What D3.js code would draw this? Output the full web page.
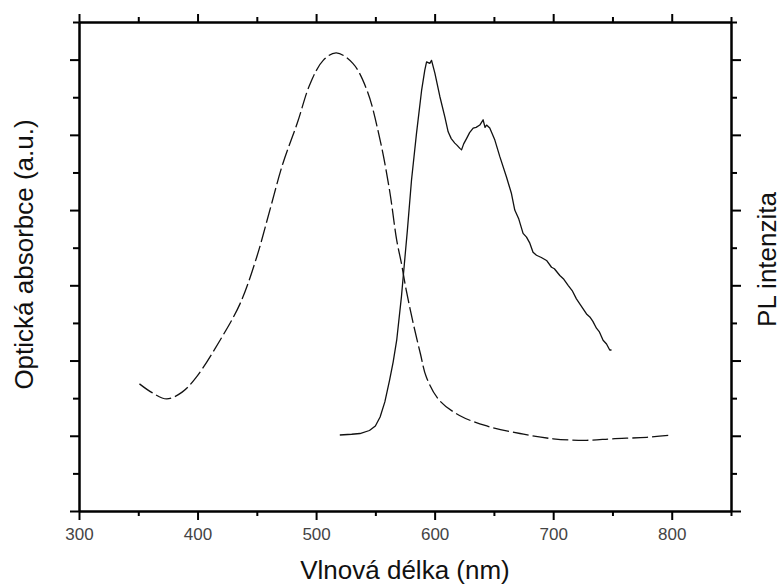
<!DOCTYPE html>
<html>
<head>
<meta charset="utf-8">
<script src="https://cdn.jsdelivr.net/npm/d3@7"></script>
<style>
  body { margin: 0; background: #fff; }
  text { font-family: "Liberation Sans", Arial, sans-serif; }
</style>
</head>
<body>
<svg width="782" height="585"></svg>
<script>
const width = 782;
const height = 585;
const plot_left = 79;
const plot_right = 731;
const plot_top = 22;
const plot_bottom = 511;

// absorption spectrum (dashed)
const abs_wavelength = [351, 362, 374, 387, 399, 419, 436, 450, 461, 472, 484, 495, 506, 517,
  531, 543, 554, 562, 568, 572, 576, 582, 588, 593, 604, 621, 644, 672, 700, 728, 750, 779, 800];
const abs_value = [1.69, 1.57, 1.49, 1.58, 1.78, 2.27, 2.76, 3.38, 4.00, 4.62, 5.15, 5.68, 5.99, 6.09,
  5.95, 5.59, 4.93, 4.26, 3.60, 3.29, 2.94, 2.49, 2.09, 1.78, 1.47, 1.27, 1.13, 1.03, 0.96, 0.94, 0.96, 0.98, 1.01];

// photoluminescence spectrum (solid)
const pl_wavelength = [520, 530, 537, 545, 550, 554, 558, 562, 565, 568, 572, 575, 577, 580.5, 584.7, 589,
  591.7, 593.2, 595.9, 597.4, 600.2, 604.4, 608.6, 611.4, 614, 617, 619, 621.3, 622.7, 624.5, 626.9, 629.5,
  632.5, 635, 638.1, 640.9, 642.5, 643.8, 646.5, 650.8, 655, 660.6, 664.8, 667.6, 671, 674.6, 677.5, 680.3,
  683, 685.9, 690, 694.4, 698.6, 701, 705.6, 709, 712.6, 716, 719.6, 723, 728.1, 730.9, 733.5, 736.5, 739,
  742.1, 745, 747.7, 749.2];
const pl_value = [1.01, 1.02, 1.03, 1.07, 1.13, 1.25, 1.45, 1.74, 1.98, 2.27, 2.85, 3.38, 3.73, 4.40, 5.02, 5.59,
  5.86, 5.97, 5.95, 5.99, 5.82, 5.51, 5.24, 5.04, 4.95, 4.89, 4.86, 4.82, 4.80, 4.88, 4.95, 5.03,
  5.09, 5.10, 5.13, 5.20, 5.10, 5.13, 5.09, 4.93, 4.71, 4.44, 4.22, 4.00, 3.88, 3.69, 3.64, 3.56,
  3.44, 3.40, 3.37, 3.33, 3.24, 3.22, 3.13, 3.08, 3.00, 2.93, 2.82, 2.74, 2.62, 2.58, 2.52, 2.43, 2.38,
  2.27, 2.22, 2.14, 2.14];

const x_major_ticks = [300, 400, 500, 600, 700, 800];
const x_minor_ticks = [350, 450, 550, 650, 750, 850];
const y_major_ticks = [0, 1, 2, 3, 4, 5, 6];
const y_minor_ticks = [0.5, 1.5, 2.5, 3.5, 4.5, 5.5, 6.5];

const x_label = "Vlnová délka (nm)";
const y_left_label = "Optická absorbce (a.u.)";
const y_right_label = "PL intenzita";

let svg = d3.select("svg");

svg.append("rect")
  .attr("width", width)
  .attr("height", height)
  .attr("fill", "white");

const x = d3.scaleLinear().domain([300, 850]).range([plot_left, plot_right]);
const y = d3.scaleLinear().domain([0, 6.5]).range([plot_bottom, plot_top]);

function AddAxis(axis, tx, ty) {
  const g = svg.append("g")
    .attr("transform", `translate(${tx},${ty})`)
    .call(axis);
  g.select(".domain").attr("stroke", "black").attr("stroke-width", 2);
  g.selectAll(".tick line").attr("stroke", "black").attr("stroke-width", 2);
  g.selectAll(".tick text")
    .attr("fill", "#444")
    .style("font-size", "17px")
    .style("font-family", "'Liberation Sans', Arial, sans-serif");
  return g;
}

// bottom
AddAxis(d3.axisBottom(x).tickValues(x_minor_ticks).tickSize(5).tickSizeOuter(0).tickFormat(""), 0, plot_bottom);
AddAxis(d3.axisBottom(x).tickValues(x_major_ticks).tickSize(9).tickSizeOuter(0).tickPadding(8).tickFormat(d3.format("d")), 0, plot_bottom);
// top
AddAxis(d3.axisTop(x).tickValues(x_minor_ticks).tickSize(5).tickSizeOuter(0).tickFormat(""), 0, plot_top);
AddAxis(d3.axisTop(x).tickValues(x_major_ticks).tickSize(8).tickSizeOuter(0).tickFormat(""), 0, plot_top);
// left
AddAxis(d3.axisLeft(y).tickValues(y_minor_ticks).tickSize(6).tickSizeOuter(0).tickFormat(""), plot_left, 0);
AddAxis(d3.axisLeft(y).tickValues(y_major_ticks).tickSize(9).tickSizeOuter(0).tickFormat(""), plot_left, 0);
// right
AddAxis(d3.axisRight(y).tickValues(y_minor_ticks).tickSize(6).tickSizeOuter(0).tickFormat(""), plot_right, 0);
AddAxis(d3.axisRight(y).tickValues(y_major_ticks).tickSize(10).tickSizeOuter(0).tickFormat(""), plot_right, 0);

const abs_data = abs_wavelength.map((w, i) => ({ w: w, v: abs_value[i] }));
const pl_data = pl_wavelength.map((w, i) => ({ w: w, v: pl_value[i] }));

const smoothLine = d3.line()
  .x(d => x(d.w))
  .y(d => y(d.v))
  .curve(d3.curveCatmullRom.alpha(0.5));

const rawLine = d3.line()
  .x(d => x(d.w))
  .y(d => y(d.v))
  .curve(d3.curveLinear);

svg.append("path")
  .attr("d", smoothLine(abs_data))
  .attr("fill", "none")
  .attr("stroke", "#111")
  .attr("stroke-width", 1.3)
  .attr("stroke-dasharray", "16,4");

svg.append("path")
  .attr("d", rawLine(pl_data))
  .attr("fill", "none")
  .attr("stroke", "#111")
  .attr("stroke-width", 1.3)
  .attr("stroke-linejoin", "round");

// axis titles
svg.append("text")
  .attr("x", (plot_left + plot_right) / 2)
  .attr("y", 579)
  .attr("text-anchor", "middle")
  .attr("fill", "#111")
  .style("font-size", "26px")
  .text(x_label);

svg.append("text")
  .attr("transform", `translate(33,${(plot_top + plot_bottom) / 2 - 12}) rotate(-90)`)
  .attr("text-anchor", "middle")
  .attr("fill", "#111")
  .style("font-size", "26px")
  .text(y_left_label);

svg.append("text")
  .attr("transform", `translate(776,${(plot_top + plot_bottom) / 2 - 7}) rotate(-90)`)
  .attr("text-anchor", "middle")
  .attr("fill", "#111")
  .style("font-size", "26px")
  .text(y_right_label);
</script>
</body>
</html>
